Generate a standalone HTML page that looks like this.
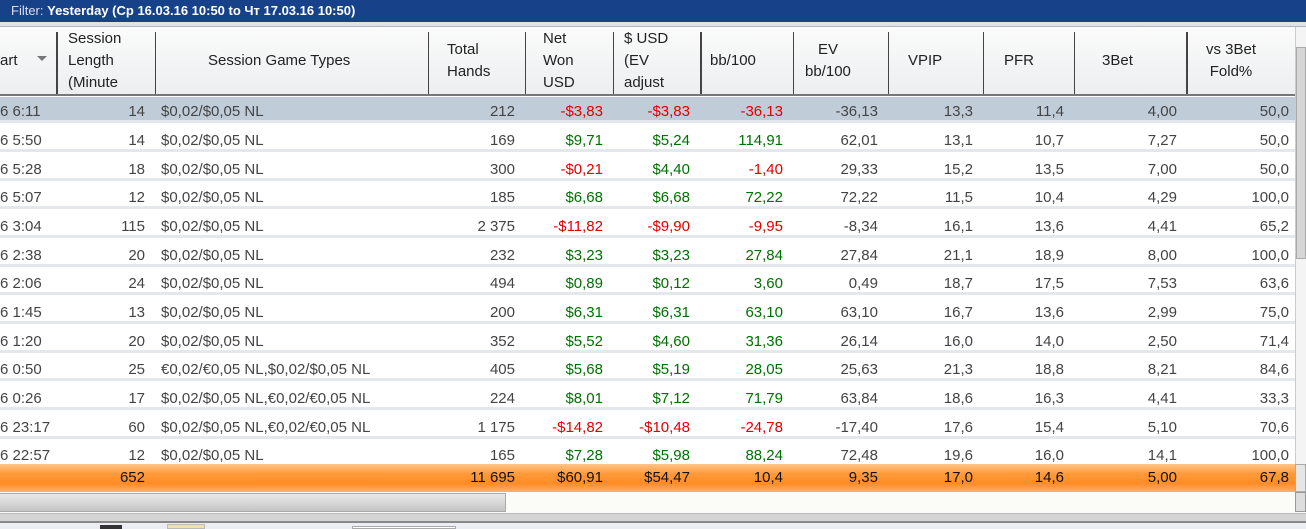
<!DOCTYPE html>
<html><head><meta charset="utf-8"><style>
*{margin:0;padding:0;box-sizing:border-box}
body{width:1306px;height:529px;overflow:hidden;background:#fff;font-family:"Liberation Sans",sans-serif;font-size:15px;color:#444;position:relative}
.filter{position:absolute;left:0;top:0;width:1306px;height:22px;background:#17428a;color:#fff;font-size:13px;line-height:22px;padding-left:11px}
.filter span{color:#dde}
.gap{position:absolute;left:0;top:22px;width:1306px;height:5px;background:#dfe3e8;border-bottom:1px solid #b0b4b8}
.hdr{position:absolute;left:0;top:27px;width:1295px;height:69px;background:linear-gradient(#fbfbfb,#eceef0);border-bottom:2px solid #777}
.hc{position:absolute;top:0;height:67px;display:flex;align-items:center;font-size:15px;color:#222;line-height:22px}
.vl{position:absolute;top:5px;width:1px;height:62px;background:#444}
.row{position:absolute;left:0;width:1295px;height:26px;border-bottom:3px solid #e4e8ec}
.row span{position:absolute;top:6px;white-space:nowrap}
.r{color:#e00000}.g{color:#007000}
.sel{background:#c0cdd9}
.tot{position:absolute;left:0;top:464px;width:1295px;height:28px;background:linear-gradient(#ffc48a,#ff9a3a 35%,#ff8c26 70%,#ffb070);color:#111;font-size:15px}
.tot span{position:absolute;top:5px}
</style></head><body>
<div class="filter"><span>Filter:</span> <b>Yesterday (Ср 16.03.16 10:50 to Чт 17.03.16 10:50)</b></div>
<div class="gap"></div>
<div class="hdr">
<div class="hc" style="left:0">art</div>
<div style="position:absolute;left:37px;top:29px;border-left:5px solid transparent;border-right:5px solid transparent;border-top:5px solid #777"></div>
<div class="vl" style="left:56px;width:2px"></div>
<div class="hc" style="left:68px">Session<br>Length<br>(Minute</div>
<div class="vl" style="left:155px"></div>
<div class="hc" style="left:208px">Session Game Types</div>
<div class="vl" style="left:428px"></div>
<div class="hc" style="left:447px">Total<br>Hands</div>
<div class="vl" style="left:525px"></div>
<div class="hc" style="left:543px">Net<br>Won<br>USD</div>
<div class="vl" style="left:613px"></div>
<div class="hc" style="left:624px">$ USD<br>(EV<br>adjust</div>
<div class="vl" style="left:700px;width:2px"></div>
<div class="hc" style="left:710px">bb/100</div>
<div class="vl" style="left:793px"></div>
<div class="hc" style="left:805px;text-align:center">EV<br>bb/100</div>
<div class="vl" style="left:888px"></div>
<div class="hc" style="left:908px">VPIP</div>
<div class="vl" style="left:983px"></div>
<div class="hc" style="left:1004px">PFR</div>
<div class="vl" style="left:1074px"></div>
<div class="hc" style="left:1102px">3Bet</div>
<div class="vl" style="left:1186px;width:2px"></div>
<div class="hc" style="left:1206px;text-align:center">vs 3Bet<br>Fold%</div>
</div>
<div style="position:absolute;left:1295px;top:27px;width:11px;height:465px;background:#f4f4f4;border-left:1px solid #ccc"></div>
<div style="position:absolute;left:1296px;top:47px;width:10px;height:212px;background:#d6d6d6;border:1px solid #aaa"></div>

<div class="row sel" style="top:97px"><span style="left:0">6 6:11</span><span style="right:1150px">14</span><span style="left:161px">$0,02/$0,05 NL</span><span style="right:780px">212</span><span class="r" style="right:692px">-$3,83</span><span class="r" style="right:605px">-$3,83</span><span class="r" style="right:512px">-36,13</span><span style="right:417px">-36,13</span><span style="right:322px">13,3</span><span style="right:231px">11,4</span><span style="right:118px">4,00</span><span style="right:6px">50,0</span></div>
<div class="row" style="top:126px"><span style="left:0">6 5:50</span><span style="right:1150px">14</span><span style="left:161px">$0,02/$0,05 NL</span><span style="right:780px">169</span><span class="g" style="right:692px">$9,71</span><span class="g" style="right:605px">$5,24</span><span class="g" style="right:512px">114,91</span><span style="right:417px">62,01</span><span style="right:322px">13,1</span><span style="right:231px">10,7</span><span style="right:118px">7,27</span><span style="right:6px">50,0</span></div>
<div class="row" style="top:155px"><span style="left:0">6 5:28</span><span style="right:1150px">18</span><span style="left:161px">$0,02/$0,05 NL</span><span style="right:780px">300</span><span class="r" style="right:692px">-$0,21</span><span class="g" style="right:605px">$4,40</span><span class="r" style="right:512px">-1,40</span><span style="right:417px">29,33</span><span style="right:322px">15,2</span><span style="right:231px">13,5</span><span style="right:118px">7,00</span><span style="right:6px">50,0</span></div>
<div class="row" style="top:183px"><span style="left:0">6 5:07</span><span style="right:1150px">12</span><span style="left:161px">$0,02/$0,05 NL</span><span style="right:780px">185</span><span class="g" style="right:692px">$6,68</span><span class="g" style="right:605px">$6,68</span><span class="g" style="right:512px">72,22</span><span style="right:417px">72,22</span><span style="right:322px">11,5</span><span style="right:231px">10,4</span><span style="right:118px">4,29</span><span style="right:6px">100,0</span></div>
<div class="row" style="top:212px"><span style="left:0">6 3:04</span><span style="right:1150px">115</span><span style="left:161px">$0,02/$0,05 NL</span><span style="right:780px">2 375</span><span class="r" style="right:692px">-$11,82</span><span class="r" style="right:605px">-$9,90</span><span class="r" style="right:512px">-9,95</span><span style="right:417px">-8,34</span><span style="right:322px">16,1</span><span style="right:231px">13,6</span><span style="right:118px">4,41</span><span style="right:6px">65,2</span></div>
<div class="row" style="top:241px"><span style="left:0">6 2:38</span><span style="right:1150px">20</span><span style="left:161px">$0,02/$0,05 NL</span><span style="right:780px">232</span><span class="g" style="right:692px">$3,23</span><span class="g" style="right:605px">$3,23</span><span class="g" style="right:512px">27,84</span><span style="right:417px">27,84</span><span style="right:322px">21,1</span><span style="right:231px">18,9</span><span style="right:118px">8,00</span><span style="right:6px">100,0</span></div>
<div class="row" style="top:269px"><span style="left:0">6 2:06</span><span style="right:1150px">24</span><span style="left:161px">$0,02/$0,05 NL</span><span style="right:780px">494</span><span class="g" style="right:692px">$0,89</span><span class="g" style="right:605px">$0,12</span><span class="g" style="right:512px">3,60</span><span style="right:417px">0,49</span><span style="right:322px">18,7</span><span style="right:231px">17,5</span><span style="right:118px">7,53</span><span style="right:6px">63,6</span></div>
<div class="row" style="top:298px"><span style="left:0">6 1:45</span><span style="right:1150px">13</span><span style="left:161px">$0,02/$0,05 NL</span><span style="right:780px">200</span><span class="g" style="right:692px">$6,31</span><span class="g" style="right:605px">$6,31</span><span class="g" style="right:512px">63,10</span><span style="right:417px">63,10</span><span style="right:322px">16,7</span><span style="right:231px">13,6</span><span style="right:118px">2,99</span><span style="right:6px">75,0</span></div>
<div class="row" style="top:327px"><span style="left:0">6 1:20</span><span style="right:1150px">20</span><span style="left:161px">$0,02/$0,05 NL</span><span style="right:780px">352</span><span class="g" style="right:692px">$5,52</span><span class="g" style="right:605px">$4,60</span><span class="g" style="right:512px">31,36</span><span style="right:417px">26,14</span><span style="right:322px">16,0</span><span style="right:231px">14,0</span><span style="right:118px">2,50</span><span style="right:6px">71,4</span></div>
<div class="row" style="top:355px"><span style="left:0">6 0:50</span><span style="right:1150px">25</span><span style="left:161px">€0,02/€0,05 NL,$0,02/$0,05 NL</span><span style="right:780px">405</span><span class="g" style="right:692px">$5,68</span><span class="g" style="right:605px">$5,19</span><span class="g" style="right:512px">28,05</span><span style="right:417px">25,63</span><span style="right:322px">21,3</span><span style="right:231px">18,8</span><span style="right:118px">8,21</span><span style="right:6px">84,6</span></div>
<div class="row" style="top:384px"><span style="left:0">6 0:26</span><span style="right:1150px">17</span><span style="left:161px">$0,02/$0,05 NL,€0,02/€0,05 NL</span><span style="right:780px">224</span><span class="g" style="right:692px">$8,01</span><span class="g" style="right:605px">$7,12</span><span class="g" style="right:512px">71,79</span><span style="right:417px">63,84</span><span style="right:322px">18,6</span><span style="right:231px">16,3</span><span style="right:118px">4,41</span><span style="right:6px">33,3</span></div>
<div class="row" style="top:413px"><span style="left:0">6 23:17</span><span style="right:1150px">60</span><span style="left:161px">$0,02/$0,05 NL,€0,02/€0,05 NL</span><span style="right:780px">1 175</span><span class="r" style="right:692px">-$14,82</span><span class="r" style="right:605px">-$10,48</span><span class="r" style="right:512px">-24,78</span><span style="right:417px">-17,40</span><span style="right:322px">17,6</span><span style="right:231px">15,4</span><span style="right:118px">5,10</span><span style="right:6px">70,6</span></div>
<div class="row" style="top:441px;border-bottom:none"><span style="left:0">6 22:57</span><span style="right:1150px">12</span><span style="left:161px">$0,02/$0,05 NL</span><span style="right:780px">165</span><span class="g" style="right:692px">$7,28</span><span class="g" style="right:605px">$5,98</span><span class="g" style="right:512px">88,24</span><span style="right:417px">72,48</span><span style="right:322px">19,6</span><span style="right:231px">16,0</span><span style="right:118px">14,1</span><span style="right:6px">100,0</span></div>
<div class="tot"><span style="right:1150px">652</span><span style="right:780px">11 695</span><span style="right:692px">$60,91</span><span style="right:605px">$54,47</span><span style="right:512px">10,4</span><span style="right:417px">9,35</span><span style="right:322px">17,0</span><span style="right:231px">14,6</span><span style="right:118px">5,00</span><span style="right:6px">67,8</span></div>
<div style="position:absolute;left:1295px;top:464px;width:11px;height:28px;background:#e6e6e6;border:1px solid #aaa"></div>
<div style="position:absolute;left:0;top:492px;width:1306px;height:21px;background:#fbfbf8"></div>
<div style="position:absolute;left:0;top:493px;width:506px;height:19px;background:linear-gradient(#e8e8e8,#d8d8d8 50%,#c4c4c4);border:1px solid #aaa;border-left:none"></div>
<div style="position:absolute;left:1295px;top:492px;width:11px;height:20px;background:#ddd;border:1px solid #999"></div>
<div style="position:absolute;left:0;top:513px;width:1306px;height:10px;background:#d4d4d4;border-top:1px solid #bbb;border-bottom:2px solid #888"></div>
<div style="position:absolute;left:0;top:523px;width:1306px;height:6px;background:#ecedf2"></div>
<div style="position:absolute;left:100px;top:525px;width:22px;height:4px;background:#333"></div>
<div style="position:absolute;left:167px;top:524px;width:38px;height:5px;background:#f0e0b0;border:1px solid #bbb"></div>
<div style="position:absolute;left:352px;top:526px;width:104px;height:3px;background:#fff;border:1px solid #aaa"></div>
</body></html>
